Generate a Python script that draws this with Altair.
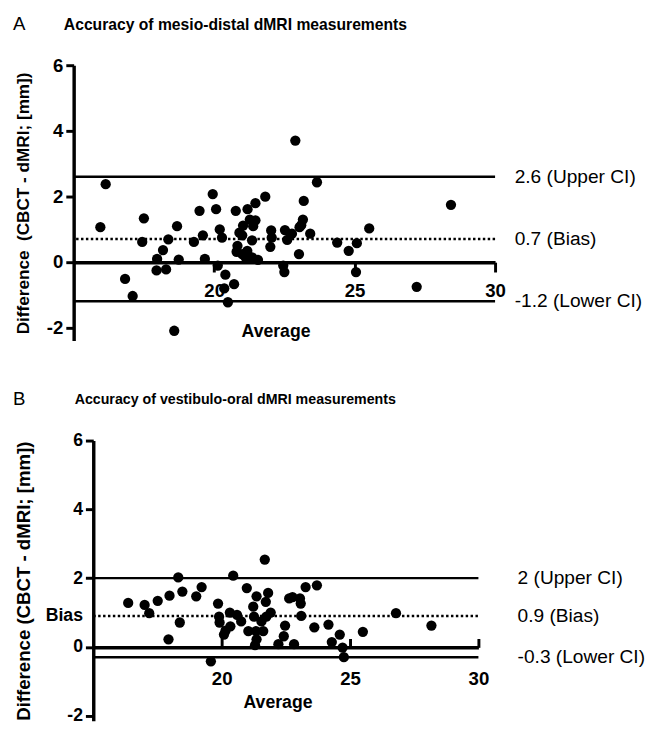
import altair as alt
import pandas as pd

FONT = "Liberation Sans"

# ---------------- Panel A data ----------------
avg_a = [15.95, 16.14, 16.83, 17.10, 17.50, 17.44, 17.97, 17.95, 18.18, 18.29,
         18.37, 18.68, 18.74, 18.58, 19.28, 19.48, 19.60, 19.67, 19.95, 20.07,
         20.20, 20.28, 20.13, 20.40, 20.36, 20.71, 20.49, 20.77, 21.03, 21.00,
         21.19, 21.27, 21.47, 21.82, 21.47, 21.35, 20.83, 20.80, 21.00, 21.12,
         21.35, 21.56, 20.90, 21.39, 21.18, 22.03, 22.05, 22.00, 22.46, 22.50,
         22.52, 22.60, 22.77, 22.89, 23.02, 23.04, 23.10, 23.16, 23.19, 23.42,
         23.66, 24.38, 24.79, 25.08, 25.52, 25.05, 27.21, 28.43]
diff_a = [1.06, 2.37, -0.52, -1.04, 1.33, 0.61, 0.09, -0.26, 0.36, -0.23,
          0.69, 1.09, 0.07, -2.10, 0.61, 1.56, 0.81, 0.09, 2.07, 1.61,
          0.99, 0.74, -0.11, -0.39, -0.81, -0.68, -1.23, 1.56, 1.11, 0.81,
          1.61, 1.29, 1.79, 1.99, 1.27, 0.66, 0.49, 0.31, 0.24, 0.14,
          0.14, 0.06, 0.89, 1.09, 0.34, 0.96, 0.74, 0.46, -0.11, -0.31,
          0.97, 0.67, 0.86, 3.70, 0.24, 1.06, 1.12, 1.29, 1.86, 0.86,
          2.43, 0.59, 0.34, 0.57, 1.02, -0.31, -0.76, 1.74]
lines_a_val = [2.6, 0.7, -1.2]
lines_a_text = ["2.6 (Upper CI)", "0.7 (Bias)", "-1.2 (Lower CI)"]
lines_a_dash = ["solid", "dotted", "solid"]
title_a = "Accuracy of mesio-distal dMRI measurements"

# ---------------- Panel B data ----------------
avg_b = [16.36, 17.00, 17.18, 17.51, 17.97, 17.93, 18.31, 18.47, 18.37, 19.01,
         19.22, 19.58, 19.86, 19.90, 19.92, 20.09, 20.15, 20.34, 20.32, 20.45,
         20.60, 20.76, 20.98, 21.04, 21.23, 21.26, 21.36, 21.34, 21.36, 21.30,
         21.55, 21.62, 21.68, 21.72, 21.81, 21.74, 21.91, 22.21, 22.47, 22.42,
         22.63, 22.76, 22.82, 23.05, 23.08, 23.10, 23.27, 23.61, 23.71, 24.16,
         24.29, 24.60, 24.71, 24.76, 25.50, 26.79, 28.17]
diff_b = [1.28, 1.22, 0.98, 1.34, 1.49, 0.22, 2.02, 1.61, 0.71, 1.47,
          1.74, -0.42, 1.26, 0.88, 0.71, 0.36, 0.47, 0.60, 1.00, 2.07,
          0.93, 0.74, 1.71, 0.46, 1.17, 0.88, 1.47, 0.46, 0.22, 0.05,
          0.74, 0.46, 2.54, 1.31, 1.57, 0.88, 1.00, 0.08, 0.62, 0.31,
          1.41, 1.45, 0.08, 1.41, 1.26, 0.90, 1.74, 0.57, 1.79, 0.65,
          0.14, 0.36, -0.02, -0.30, 0.44, 0.98, 0.62]
lines_b_val = [2.0, 0.9, -0.3]
lines_b_text = ["2 (Upper CI)", "0.9 (Bias)", "-0.3 (Lower CI)"]
lines_b_dash = ["solid", "dotted", "solid"]
title_b = "Accuracy of vestibulo-oral dMRI measurements"

x_ticks = [20, 25, 30]

df_a = pd.DataFrame({"avg": avg_a, "diff": diff_a})
la = pd.DataFrame({"diff": lines_a_val, "label": lines_a_text, "dash": lines_a_dash})
df_b = pd.DataFrame({"avg": avg_b, "diff": diff_b})
lb = pd.DataFrame({"diff": lines_b_val, "label": lines_b_text, "dash": lines_b_dash})

dash_scale = alt.Scale(domain=["solid", "dotted"], range=[[1, 0], [2.5, 2.5]])
xscale_a = alt.Scale(domain=[15, 30], nice=False, zero=False)
# panel B's plot starts 20 px further right than panel A's
xscale_b = alt.Scale(domain=[15, 30], range=[20, 413], nice=False, zero=False)


def heading(letter, title, lx, tx, ty, tsize):
    d = pd.DataFrame({"letter": [letter], "title": [title]})
    let = alt.Chart(d).mark_text(align="left", baseline="middle", font=FONT,
                                 fontSize=19, color="black").encode(
        x=alt.value(lx), y=alt.value(ty), text="letter:N")
    tit = alt.Chart(d).mark_text(align="left", baseline="middle", font=FONT,
                                 fontSize=tsize, fontWeight="bold", color="black").encode(
        x=alt.value(tx), y=alt.value(ty + 1), text="title:N")
    return let, tit


# ---------------- Panel A ----------------
yscale_a = alt.Scale(domain=[-2.4, 6], nice=False, zero=False)
yaxis_a = alt.Axis(values=[-2, 0, 2, 4, 6], labelExpr="'' + datum.value", grid=False,
                   domainColor="black", domainWidth=3.5, tickColor="black", tickWidth=3,
                   tickSize=8, labelPadding=3, labelFont=FONT, labelFontSize=19,
                   labelFontWeight="bold", labelColor="black", labelFlush=False,
                   labelOverlap=False, title="Difference\u00a0 (CBCT - dMRI; [mm])",
                   titleFont=FONT, titleFontSize=17.5, titleFontWeight="bold",
                   titleColor="black", titlePadding=14)
xaxis_a = alt.Axis(values=x_ticks, orient="bottom", offset=-80, grid=False,
                   domainColor="black", domainWidth=3.5, tickColor="black", tickWidth=3,
                   tickSize=10, labelPadding=10, labelFont=FONT, labelFontSize=19,
                   labelFontWeight="bold", labelColor="black", labelFlush=False,
                   title="Average", titleFont=FONT, titleFontSize=18, titleFontWeight="bold",
                   titleColor="black", titlePadding=23, titleX=206)
Y_A = alt.Y("diff:Q", scale=yscale_a, axis=yaxis_a)

rules_a = alt.Chart(la).mark_rule(color="black", strokeWidth=2.5).encode(
    y=Y_A, strokeDash=alt.StrokeDash("dash:N", scale=dash_scale, legend=None))
pts_a = alt.Chart(df_a).mark_circle(size=110, color="black", opacity=1).encode(
    x=alt.X("avg:Q", scale=xscale_a, axis=xaxis_a), y=Y_A)
txt_a = alt.Chart(la).mark_text(align="left", baseline="middle", dx=20, font=FONT,
                                fontSize=19.5, color="black").encode(
    x=alt.XDatum(30), y=Y_A, text="label:N")
let_a, tit_a = heading("A", title_a, -62, -10, -42, 16)

chart_a = alt.layer(rules_a, pts_a, txt_a, let_a, tit_a).properties(width=430, height=281)

# ---------------- Panel B ----------------
yscale_b = alt.Scale(domain=[-2.15, 6], nice=False, zero=False)
yaxis_b = alt.Axis(values=[-2, 0, 0.9, 2, 4, 6], offset=-20,
                   labelExpr="datum.value == 0.9 ? 'Bias' : '' + datum.value",
                   tickOpacity={"condition": {"test": "datum.value == 0.9", "value": 0}, "value": 1},
                   grid=False, domainColor="black", domainWidth=3.5, tickColor="black",
                   tickWidth=3, tickSize=8, labelPadding=3, labelFont=FONT, labelFontSize=18,
                   labelFontWeight="bold", labelColor="black", labelFlush=False,
                   labelOverlap=False, title="Difference (CBCT - dMRI; [mm])",
                   titleFont=FONT, titleFontSize=19, titleFontWeight="bold",
                   titleColor="black", titlePadding=12)
xaxis_b_labels = alt.Axis(values=x_ticks, orient="bottom", offset=-62, grid=False,
                          domain=False, ticks=False, tickSize=0, labelPadding=10,
                          labelFont=FONT, labelFontSize=19, labelFontWeight="bold",
                          labelColor="black", labelFlush=False, title="Average",
                          titleFont=FONT, titleFontSize=18, titleFontWeight="bold",
                          titleColor="black", titlePadding=5, titleX=208)
xaxis_b_line = alt.Axis(values=x_ticks, orient="top", offset=-211, grid=False,
                        domainColor="black", domainWidth=3.5, tickColor="black",
                        tickWidth=3, tickSize=9, labels=False, title=None)
Y_B = alt.Y("diff:Q", scale=yscale_b, axis=yaxis_b)

rules_b = alt.Chart(lb).mark_rule(color="black", strokeWidth=2.5).encode(
    x=alt.XDatum(15, scale=xscale_b, axis=None), x2=alt.X2Datum(30), y=Y_B,
    strokeDash=alt.StrokeDash("dash:N", scale=dash_scale, legend=None))
pts_b = alt.Chart(df_b).mark_circle(size=110, color="black", opacity=1).encode(
    x=alt.X("avg:Q", scale=xscale_b, axis=xaxis_b_labels), y=Y_B)
axis_line_b = alt.Chart(df_b).mark_circle(opacity=0).encode(
    x=alt.X("avg:Q", scale=xscale_b, axis=xaxis_b_line), y=Y_B)
txt_b = alt.Chart(lb).mark_text(align="left", baseline="middle", dx=40, font=FONT,
                                fontSize=19.5, color="black").encode(
    x=alt.XDatum(30, scale=xscale_b, axis=None), y=Y_B, text="label:N")
let_b, tit_b = heading("B", title_b, -62, 1, -42, 14.5)

chart_b = alt.layer(rules_b, axis_line_b, pts_b, txt_b, let_b, tit_b).resolve_axis(
    x="independent").properties(width=413, height=286)

chart = alt.vconcat(chart_a, chart_b, spacing=51).properties(
    padding={"left": 5, "top": 0, "right": 0, "bottom": 0}
).configure_view(stroke=None)

chart.save("out.html", embed_options={"renderer": "svg", "actions": False})
